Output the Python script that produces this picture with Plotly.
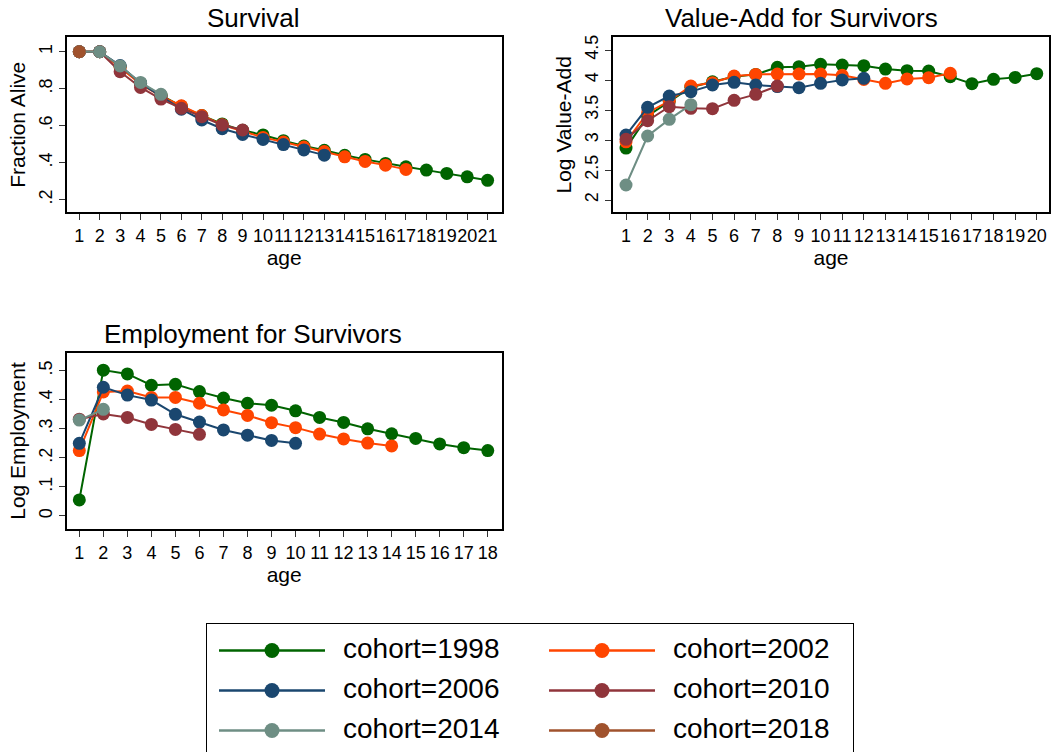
import plotly.graph_objects as go

W, H = 1057, 752

cohorts = [1998, 2002, 2006, 2010, 2014, 2018]
colors = ["#006400", "#FF4500", "#1A476F", "#90353B", "#6E8E84", "#A0522D"]

# Survival (fraction alive) by age, per cohort
surv_1998 = [1, 1, 0.92, 0.83, 0.765, 0.705, 0.655, 0.61, 0.575, 0.55, 0.519,
             0.49, 0.467, 0.44, 0.418, 0.396, 0.378, 0.36, 0.342, 0.324, 0.305]
surv_2002 = [1, 1, 0.915, 0.825, 0.76, 0.708, 0.655, 0.605, 0.57, 0.537, 0.512,
             0.485, 0.46, 0.432, 0.407, 0.387, 0.364]
surv_2006 = [1, 1, 0.925, 0.83, 0.76, 0.689, 0.631, 0.584, 0.553, 0.526, 0.498,
             0.469, 0.441]
surv_2010 = [1, 1, 0.892, 0.807, 0.744, 0.694, 0.649, 0.604, 0.577]
surv_2014 = [1, 1, 0.923, 0.834, 0.77]
surv_2018 = [1]

# Log value-add for survivors
va_1998 = [2.865, 3.40, 3.64, 3.88, 3.97, 4.056, 4.094, 4.211, 4.222, 4.261,
           4.25, 4.239, 4.183, 4.156, 4.15, 4.056, 3.939, 4.011, 4.044, 4.106]
va_2002 = [2.97, 3.456, 3.65, 3.90, 3.956, 4.067, 4.094, 4.10, 4.10, 4.10,
           4.078, 4.01, 3.944, 4.017, 4.039, 4.111]
va_2006 = [3.083, 3.544, 3.733, 3.806, 3.917, 3.961, 3.917, 3.89, 3.872,
           3.944, 4.0, 4.028]
va_2010 = [3.011, 3.322, 3.556, 3.528, 3.522, 3.661, 3.761, 3.90]
va_2014 = [2.25, 3.067, 3.344, 3.589]
va_2018 = []

# Log employment for survivors
emp_1998 = [0.055, 0.502, 0.489, 0.45, 0.453, 0.428, 0.406, 0.388, 0.381,
            0.362, 0.339, 0.322, 0.30, 0.283, 0.267, 0.248, 0.235, 0.225]
emp_2002 = [0.225, 0.427, 0.43, 0.408, 0.408, 0.388, 0.365, 0.346, 0.321,
            0.304, 0.282, 0.265, 0.251, 0.241]
emp_2006 = [0.25, 0.443, 0.416, 0.399, 0.35, 0.323, 0.296, 0.278, 0.26, 0.25]
emp_2010 = [0.333, 0.351, 0.339, 0.315, 0.298, 0.281]
emp_2014 = [0.33, 0.367]
emp_2018 = []

surv = [surv_1998, surv_2002, surv_2006, surv_2010, surv_2014, surv_2018]
va = [va_1998, va_2002, va_2006, va_2010, va_2014, va_2018]
emp = [emp_1998, emp_2002, emp_2006, emp_2010, emp_2014, emp_2018]

surv_yticks = [0.2, 0.4, 0.6, 0.8, 1]
surv_ylabels = [".2", ".4", ".6", ".8", "1"]
va_yticks = [2, 2.5, 3, 3.5, 4, 4.5]
va_ylabels = ["2", "2.5", "3", "3.5", "4", "4.5"]
emp_yticks = [0, 0.1, 0.2, 0.3, 0.4, 0.5]
emp_ylabels = ["0", ".1", ".2", ".3", ".4", ".5"]

FONT = "Liberation Sans, Arial, Helvetica, sans-serif"

fig = go.Figure()

panels = [(surv, "x", "y"), (va, "x2", "y2"), (emp, "x3", "y3")]
for data, xa, ya in panels:
    for c, col, vals in zip(cohorts, colors, data):
        if not vals:
            continue
        fig.add_trace(go.Scatter(
            x=list(range(1, len(vals) + 1)), y=vals,
            mode="lines+markers", xaxis=xa, yaxis=ya,
            name=f"cohort={c}", legendgroup=str(c), showlegend=False,
            line=dict(color=col, width=2),
            marker=dict(color=col, size=13, opacity=1),
        ))

# Key (legend) drawn in its own pixel-unit axes: 2 columns x 3 rows
KEY_LEFT, KEY_RIGHT, KEY_TOP = 207.3, 852.7, 624
KEY_COL_STEP, KEY_ROW_STEP = 330, 40
KEY_X0, KEY_Y0 = 11.7, 26.5
KEY_LINE_LEN, KEY_TEXT_GAP = 106, 124
for i, (c, col) in enumerate(zip(cohorts, colors)):
    x0 = KEY_X0 + (i % 2) * KEY_COL_STEP
    yy = KEY_Y0 + (i // 2) * KEY_ROW_STEP
    fig.add_trace(go.Scatter(
        x=[x0, x0 + KEY_LINE_LEN], y=[yy, yy],
        mode="lines", xaxis="x4", yaxis="y4", showlegend=False,
        hoverinfo="skip", line=dict(color=col, width=2.5),
    ))
    fig.add_trace(go.Scatter(
        x=[x0 + KEY_LINE_LEN / 2], y=[yy],
        mode="markers", xaxis="x4", yaxis="y4", showlegend=False,
        hoverinfo="skip", marker=dict(color=col, size=15, opacity=1),
    ))
    fig.add_trace(go.Scatter(
        x=[x0 + KEY_TEXT_GAP], y=[yy], mode="text", text=[f"cohort={c}"],
        textposition="middle right", xaxis="x4", yaxis="y4", showlegend=False,
        hoverinfo="skip", textfont=dict(family=FONT, size=28, color="black"),
    ))


def px_x(p):
    return p / W


def px_y(p):
    return 1 - p / H


axis_common = dict(showline=True, mirror=True, linecolor="black", linewidth=2,
                   ticks="outside", ticklen=6, tickwidth=1.3, tickcolor="#333",
                   showgrid=False, zeroline=False,
                   tickfont=dict(family=FONT, size=18, color="black"))

title_font = dict(family=FONT, size=21, color="black")

fig.update_layout(
    width=W, height=H, showlegend=False,
    margin=dict(l=0, r=0, t=0, b=0, autoexpand=False),
    paper_bgcolor="white", plot_bgcolor="white",
    font=dict(family=FONT, color="black"),
    xaxis=dict(domain=[px_x(66.7), px_x(501.7)], range=[0.383, 21.69],
               tickvals=list(range(1, 22)), tickangle=0, anchor="y",
               title=dict(text="age", font=title_font, standoff=2), **axis_common),
    yaxis=dict(domain=[px_y(212.3), px_y(37.3)], range=[0.132, 1.078],
               tickvals=surv_yticks, ticktext=surv_ylabels, tickangle=-90, anchor="x",
               title=dict(text="Fraction Alive", font=title_font, standoff=4), **axis_common),
    xaxis2=dict(domain=[px_x(612.7), px_x(1049.3)], range=[0.384, 20.58],
                tickvals=list(range(1, 21)), tickangle=0, anchor="y2",
                title=dict(text="age", font=title_font, standoff=2), **axis_common),
    yaxis2=dict(domain=[px_y(212.3), px_y(37.3)], range=[1.795, 4.712],
                tickvals=va_yticks, ticktext=va_ylabels, tickangle=-90, anchor="x2",
                title=dict(text="Log Value-Add", font=title_font, standoff=4), **axis_common),
    xaxis3=dict(domain=[px_x(66.7), px_x(501.7)], range=[0.475, 18.58],
                tickvals=list(range(1, 19)), tickangle=0, anchor="y3",
                title=dict(text="age", font=title_font, standoff=2), **axis_common),
    yaxis3=dict(domain=[px_y(529.3), px_y(352.7)], range=[-0.046, 0.562],
                tickvals=emp_yticks, ticktext=emp_ylabels, tickangle=-90, anchor="x3",
                title=dict(text="Log Employment", font=title_font, standoff=4), **axis_common),
    xaxis4=dict(domain=[px_x(KEY_LEFT), px_x(KEY_RIGHT)], range=[0, KEY_RIGHT - KEY_LEFT],
                anchor="y4", side="top", showline=True, linecolor="black", linewidth=1.3,
                showticklabels=False, ticks="", showgrid=False, zeroline=False,
                fixedrange=True),
    yaxis4=dict(domain=[0, px_y(KEY_TOP)], range=[H - KEY_TOP, 0],
                anchor="x4", showline=True, mirror=True, linecolor="black", linewidth=1.3,
                showticklabels=False, ticks="", showgrid=False, zeroline=False,
                fixedrange=True),
)

ptitle = dict(family=FONT, size=26, color="black")
for text, cx, cy in [("Survival", 253, 17.5), ("Value-Add for Survivors", 801, 17.5),
                     ("Employment for Survivors", 253, 334)]:
    fig.add_annotation(text=text, x=px_x(cx), y=px_y(cy), xref="paper", yref="paper",
                       xanchor="center", yanchor="middle", showarrow=False, font=ptitle)

fig.write_html("out.html")
